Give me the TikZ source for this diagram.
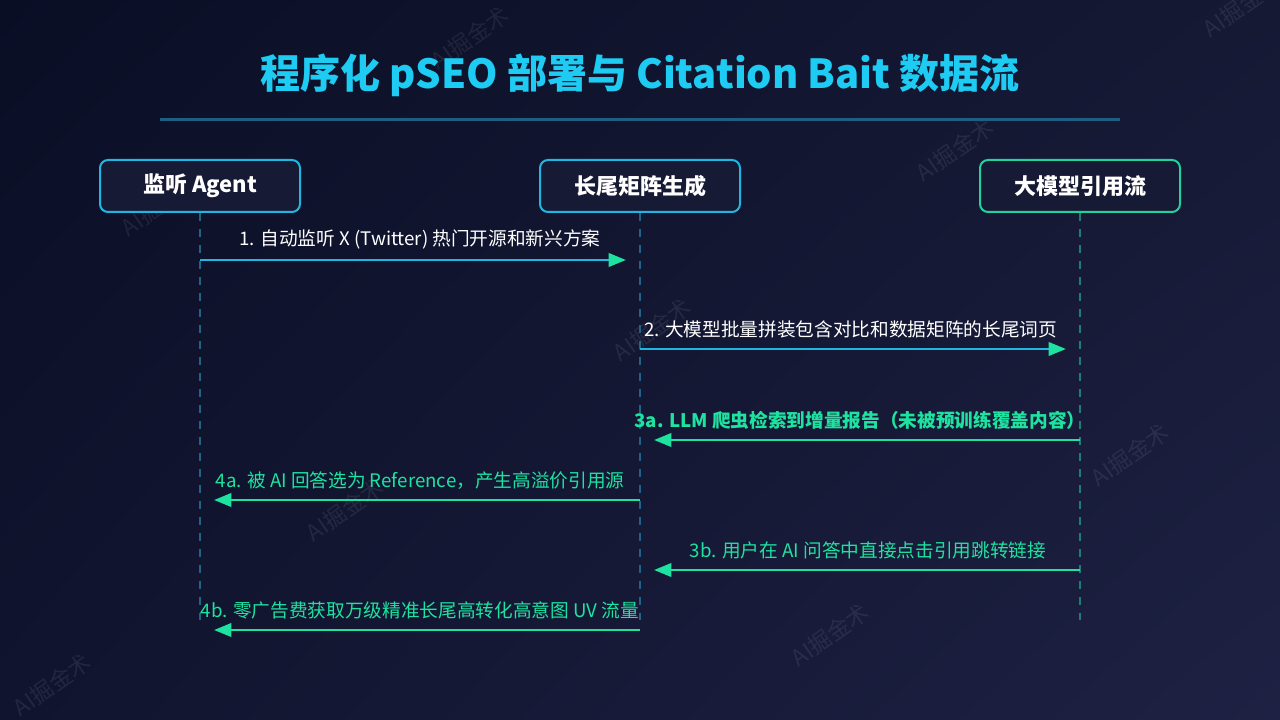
\documentclass[tikz,border=0pt]{standalone}
\usepackage{fontspec}
\setmainfont{Noto Sans CJK SC}
\usetikzlibrary{arrows.meta,positioning,shadings}

\definecolor{bgTL}{HTML}{0A0E25}
\definecolor{bgTR}{HTML}{151934}
\definecolor{bgBL}{HTML}{10142E}
\definecolor{bgBR}{HTML}{1E2143}
\definecolor{titlecyan}{HTML}{1ECBF2}
\definecolor{linecyan}{HTML}{1FB6E2}
\definecolor{msggreen}{HTML}{1EE3A0}
\definecolor{boxgreen}{HTML}{22D29C}
\definecolor{boxfill}{HTML}{161A34}
\definecolor{lifeblue}{HTML}{1E6486}
\definecolor{lifeteal}{HTML}{1C7E74}
\definecolor{rulecol}{HTML}{1C5F82}

\tikzset{
  actor/.style={draw=linecyan, line width=1.5pt, fill=boxfill, rounded corners=6pt,
    minimum width=150pt, minimum height=39pt, text=white,
    font=\fontsize{16.5}{20}\selectfont\bfseries},
  lifeline/.style={dash pattern=on 6pt off 6pt, line width=1.5pt},
  msg/.style={line width=2pt, shorten >=10.5pt,
    -{Triangle[length=13pt,width=10pt,color=msggreen]}},
  msglabel/.style={font=\fontsize{14}{17}\selectfont, inner sep=0pt},
  wm/.style={text=white, opacity=0.08, font=\fontsize{17}{20}\selectfont}
}

\begin{document}
\begin{tikzpicture}[x=0.75pt,y=0.75pt,yscale=-1,xscale=1]
% background
\shade[upper left=bgTL, upper right=bgTR, lower left=bgBL, lower right=bgBR] (0,0) rectangle (1280,720);
\useasboundingbox (0,0) rectangle (1280,720);

% watermarks
\foreach \wx/\wy in {160/205, 470/38, 955/150, 652/330, 1130/455, 345/510, 830/635, 52/685, 1242/6}
  \node[wm, rotate=35] at (\wx,\wy) {AI掘金术};

% title
\node[text=titlecyan, font=\fontsize{30}{36}\selectfont\bfseries] (title) at (640,75) {程序化 pSEO 部署与 Citation Bait 数据流};
\coordinate (ruleL) at (160,120);
\coordinate (ruleR) at (1120,120);
\draw[rulecol, line width=2.25pt] (ruleL) -- (ruleR);

% actors
\node[actor] (agent) at (200,186) {监听 Agent};
\node[actor] (matrix) at (640,186) {长尾矩阵生成};
\node[actor, draw=boxgreen] (llm) at (1080,186) {大模型引用流};

% lifelines
\coordinate (agentEnd) at (200,620);
\coordinate (matrixEnd) at (640,620);
\coordinate (llmEnd) at (1080,620);
\draw[lifeline, lifeblue] (agent) -- (agentEnd);
\draw[lifeline, lifeblue] (matrix) -- (matrixEnd);
\draw[lifeline, lifeteal] (llm) -- (llmEnd);

% messages
\draw[msg, linecyan] (agent |- 0,260) -- (matrix |- 0,260)
  node[msglabel, midway, above=7pt, text=white] {1. 自动监听 X (Twitter) 热门开源和新兴方案};
\draw[msg, linecyan] (matrix |- 0,349) -- (llm |- 0,349)
  node[msglabel, midway, above=7pt, text=white, xshift=-7pt] {2. 大模型批量拼装包含对比和数据矩阵的长尾词页};
\draw[msg, msggreen] (llm |- 0,440) -- (matrix |- 0,440)
  node[msglabel, midway, above=7pt, text=msggreen, font=\fontsize{14}{17}\selectfont\bfseries] {3a. LLM 爬虫检索到增量报告（未被预训练覆盖内容）};
\draw[msg, msggreen] (matrix |- 0,500) -- (agent |- 0,500)
  node[msglabel, midway, above=7pt, text=msggreen] {4a. 被 AI 回答选为 Reference，产生高溢价引用源};
\draw[msg, msggreen] (llm |- 0,570) -- (matrix |- 0,570)
  node[msglabel, midway, above=7pt, text=msggreen, xshift=6pt] {3b. 用户在 AI 问答中直接点击引用跳转链接};
\draw[msg, msggreen] (matrix |- 0,630) -- (agent |- 0,630)
  node[msglabel, midway, above=7pt, text=msggreen] {4b. 零广告费获取万级精准长尾高转化高意图 UV 流量};
\end{tikzpicture}
\end{document}
